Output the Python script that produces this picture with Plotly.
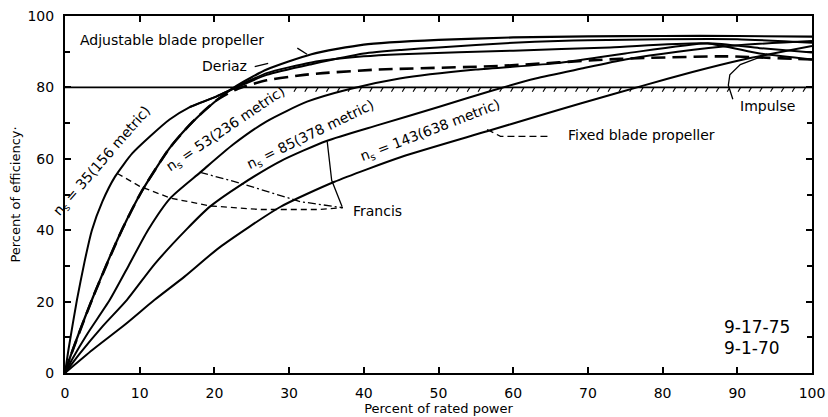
import numpy as np
import plotly.graph_objects as go

# ---------------- data ----------------
ns35_x = [0, 0.5, 1.6, 2.6, 3.6, 5, 6.7, 9, 11.4, 14, 16.7, 20.3, 23, 27, 33, 40, 45, 50, 60, 66, 70, 80, 90, 100]
ns35_y = [0, 7, 20.5, 31, 40, 48, 55, 61.5, 66.3, 71, 74.5, 77.5, 80, 83.5, 86.5, 89.5, 90.5, 91.2, 92.5, 93, 93.2, 93.5, 93.5, 92.5]

adj_x = [0, 0.7, 3.7, 7.6, 10.3, 14, 17.1, 20.3, 23, 27, 33, 40, 50, 60, 70, 80, 90, 100]
adj_y = [0, 4.5, 21, 40, 51, 63, 70.4, 76.4, 80.5, 85, 89.3, 92, 93.3, 94, 94.3, 94.4, 94.4, 94.2]

imp_x = [0, 0.7, 3.7, 7.6, 10.3, 14, 17.1, 20.3, 23, 27, 32, 34.5, 42, 58, 74.3, 88.6, 97.5, 100]
imp_y = [0, 4.5, 21, 40, 51, 63, 70.4, 76.4, 79.5, 82, 83.5, 84, 85, 86, 88, 88.7, 88, 87.8]

der_x = [16.7, 20.3, 23, 27, 33, 40, 45, 60, 73, 86, 93, 100]
der_y = [74.5, 77.5, 80.2, 84, 87, 88.7, 89.3, 90.3, 91.2, 92.3, 89.5, 87.8]

ns53_x = [0, 1, 3, 6, 8.5, 11.1, 14.1, 18.1, 22.5, 27, 32.4, 38, 44.8, 55, 66, 75, 86, 93, 100]
ns53_y = [0, 4, 11, 20.5, 30, 40, 49, 56.2, 64, 70.5, 76, 79.5, 82.5, 85, 86.8, 89.5, 92.4, 91, 89.8]

ns85_x = [0, 2, 5, 8.3, 12, 16.3, 19.4, 23.4, 29, 35, 42, 50, 57, 63, 69, 75, 82, 90, 100]
ns85_y = [0, 5.5, 13, 20.5, 30.5, 40.3, 46.6, 52.5, 59.5, 65, 69.5, 74.5, 79, 82.5, 85.2, 87.8, 90, 91.8, 93]

ns143_x = [0, 3.7, 8, 12, 16, 20.7, 28.8, 36, 45, 56.5, 63, 69, 77.4, 84, 90.8, 100]
ns143_y = [0, 6.5, 13.5, 20.5, 27, 35.2, 46.5, 53.5, 60.5, 67.7, 71.8, 75.5, 80.5, 84.3, 87.8, 91.6]

# leader lines
francis_dash_x = [7.0, 10.0, 14.1, 19.4, 26.1, 34.1, 37.2]
francis_dash_y = [55.9, 52.3, 49.0, 46.8, 45.8, 45.8, 46.3]
francis_dashdot_x = [18.1, 23.4, 31.5, 37.2]
francis_dashdot_y = [56.2, 53.2, 48.0, 46.3]
francis_solid_x = [35.1, 35.7, 37.1]
francis_solid_y = [64.9, 54.0, 46.6]
fixed_lead_x = [56.5, 58.3, 64.6]
fixed_lead_y = [68.2, 66.3, 66.3]
impulse_lead_x = [89.4, 88.8, 89.0, 90.4, 92.6, 94.0]
impulse_lead_y = [76.7, 80.6, 83.5, 86.4, 88.1, 89.3]
adj_lead_x = [31.1, 32.4]
adj_lead_y = [91.0, 89.3]
der_lead_x = [25.4, 27.2]
der_lead_y = [85.8, 86.7]

x_ticks = [0, 10, 20, 30, 40, 50, 60, 70, 80, 90, 100]
y_ticks = [0, 20, 40, 60, 80, 100]
limit_y = 80

FONT = "DejaVu Sans"
fig = go.Figure()

def line(x, y, width=2.0, dash="solid", name=""):
    fig.add_trace(go.Scatter(x=x, y=y, mode="lines", name=name,
                             line=dict(color="black", width=width, dash=dash, shape="spline", smoothing=0.6),
                             hoverinfo="skip", showlegend=False))

line(ns35_x, ns35_y, name="ns35")
line(adj_x, adj_y, width=2.2, name="Adjustable blade propeller")
line(imp_x, imp_y, width=2.6, dash="14px,7px", name="Impulse")
line(der_x, der_y, name="Deriaz")
line(ns53_x, ns53_y, name="ns53")
line(ns85_x, ns85_y, name="ns85")
line(ns143_x, ns143_y, name="ns143")

# 80 % line with hatching
fig.add_trace(go.Scatter(x=[0, 100], y=[limit_y, limit_y], mode="lines",
                         line=dict(color="black", width=1.8), hoverinfo="skip", showlegend=False))
hx, hy = [], []
for xv in np.arange(31, 100, 1.45):
    hx += [xv, xv - 0.35, None]
    hy += [limit_y, limit_y - 1.2, None]
fig.add_trace(go.Scatter(x=hx, y=hy, mode="lines", line=dict(color="black", width=1.1),
                         hoverinfo="skip", showlegend=False))

def leader(x, y, dash="solid", width=1.3):
    fig.add_trace(go.Scatter(x=x, y=y, mode="lines", line=dict(color="black", width=width, dash=dash),
                             hoverinfo="skip", showlegend=False))

leader(francis_dash_x, francis_dash_y, dash="6px,4px")
leader(francis_dashdot_x, francis_dashdot_y, dash="8px,3px,2px,3px")
leader(francis_solid_x, francis_solid_y)
leader(fixed_lead_x, fixed_lead_y, dash="7px,4px")
leader(impulse_lead_x, impulse_lead_y)
leader(adj_lead_x, adj_lead_y)
leader(der_lead_x, der_lead_y)

def note(x, y, text, size=14, angle=0, xanchor="center"):
    fig.add_annotation(x=x, y=y, text=text, showarrow=False, textangle=angle,
                       xanchor=xanchor, yanchor="middle",
                       font=dict(family=FONT, size=size, color="black"))

note(1.7, 93.2, "Adjustable blade propeller", size=14, xanchor="left")
note(21.4, 86.1, "Deriaz", size=14)
note(5.0, 59.5, "n<sub>s</sub> = 35(156 metric)", size=14, angle=-49)
note(21.6, 68.3, "n<sub>s</sub> = 53(236 metric)", size=14, angle=-34)
note(32.9, 66.6, "n<sub>s</sub> = 85(378 metric)", size=14, angle=-26)
note(48.9, 67.9, "n<sub>s</sub> = 143(638 metric)", size=14, angle=-21)
note(77.2, 66.6, "Fixed blade propeller", size=14)
note(41.8, 45.4, "Francis", size=14)
note(94.1, 74.8, "Impulse", size=14)
note(88.0, 12.8, "9-17-75", size=17, xanchor="left")
note(88.0, 7.0, "9-1-70", size=17, xanchor="left")

axis_common = dict(showgrid=False, zeroline=False, showline=True, linecolor="black", linewidth=2,
                   mirror="ticks", ticks="inside", ticklen=6, tickwidth=1.5, tickcolor="black",
                   tickfont=dict(family=FONT, size=14, color="black"), ticklabelstandoff=6,
                   automargin=False)

fig.update_xaxes(range=[0, 100], tickvals=x_ticks, ticktext=[str(v) for v in x_ticks],
                 title=dict(text="Percent of rated power", font=dict(family=FONT, size=13, color="black"), standoff=4),
                 **axis_common)
fig.update_yaxes(range=[0, 100], tickvals=y_ticks, ticktext=[str(v) for v in y_ticks],
                 minor=dict(dtick=10, ticks="inside", ticklen=5, tickcolor="black"),
                 title=dict(text="Percent of efficiency·", font=dict(family=FONT, size=13, color="black"), standoff=4),
                 **axis_common)

fig.update_layout(width=828, height=417, margin=dict(l=65, r=16, t=16, b=44, autoexpand=False),
                  paper_bgcolor="white", plot_bgcolor="white", showlegend=False)

fig.write_html("out.html")
